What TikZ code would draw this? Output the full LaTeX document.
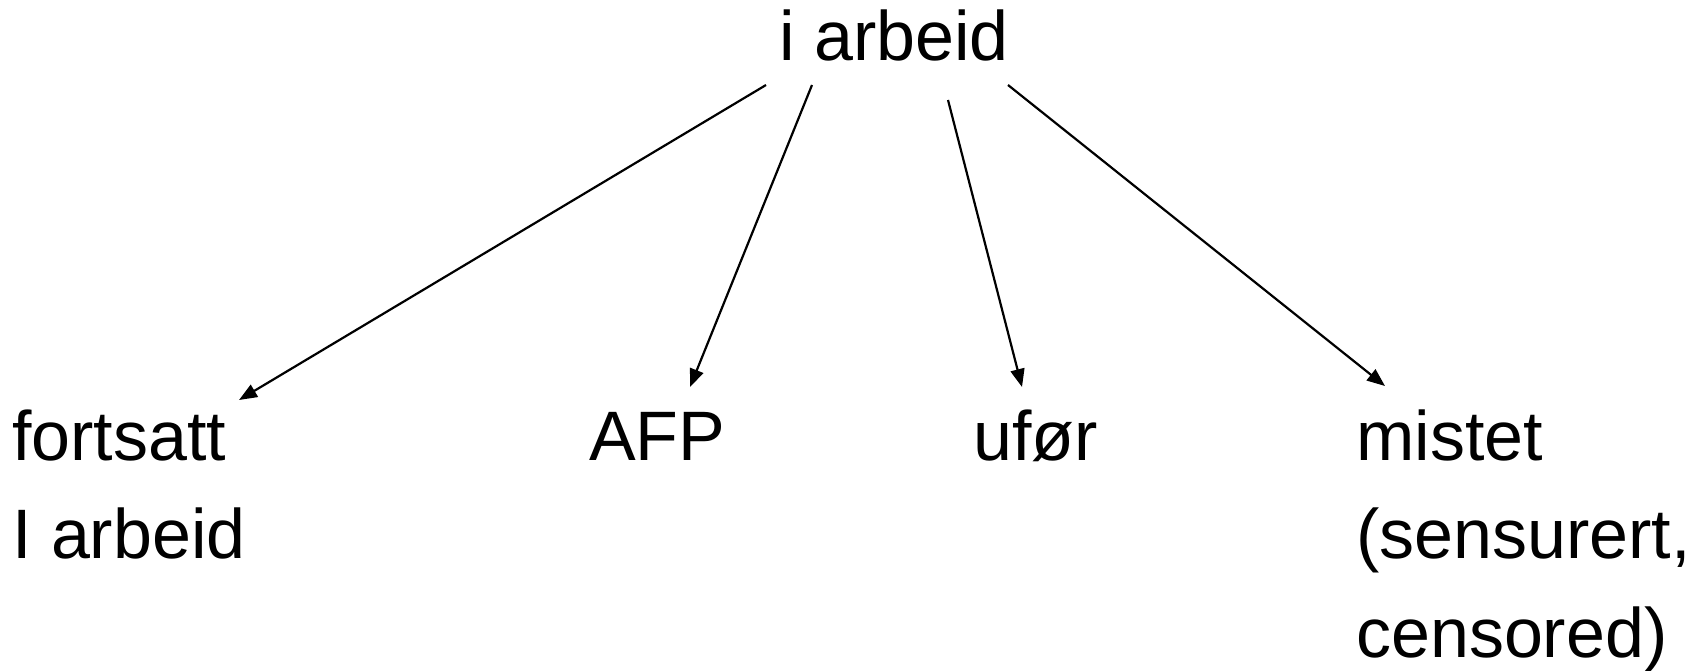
\documentclass[tikz,border=0pt]{standalone}
\usepackage{fontspec}
\setmainfont{Liberation Sans}
\usetikzlibrary{arrows.meta}
\begin{document}
\begin{tikzpicture}[x=1pt,y=-1pt,
  lbl/.style={anchor=base west,inner sep=0pt,align=left,
    font=\fontsize{70}{98.5}\selectfont},
  arr/.style={line width=2.2pt,-{Triangle[length=18pt,width=14pt]}}]
\useasboundingbox (0,0) rectangle (1702,670);
\node[lbl] (top) at (779,60) {i arbeid};
\node[lbl] (fort) at (12,558.5) {fortsatt\\I arbeid};
\node[lbl] (afp) at (589,460) {AFP};
\node[lbl] (ufor) at (973,460) {ufør};
\node[lbl] (mist) at (1356,657) {mistet\\(sensurert,\\censored)};
\coordinate (s1) at (766,85);
\coordinate (s2) at (812,85);
\coordinate (s3) at (948,100);
\coordinate (s4) at (1008,85);
\coordinate (e1) at (239,400);
\coordinate (e2) at (690,387);
\coordinate (e3) at (1022,387);
\coordinate (e4) at (1385,386);
\draw[arr] (s1) -- (e1);
\draw[arr] (s2) -- (e2);
\draw[arr] (s3) -- (e3);
\draw[arr] (s4) -- (e4);
\end{tikzpicture}
\end{document}
